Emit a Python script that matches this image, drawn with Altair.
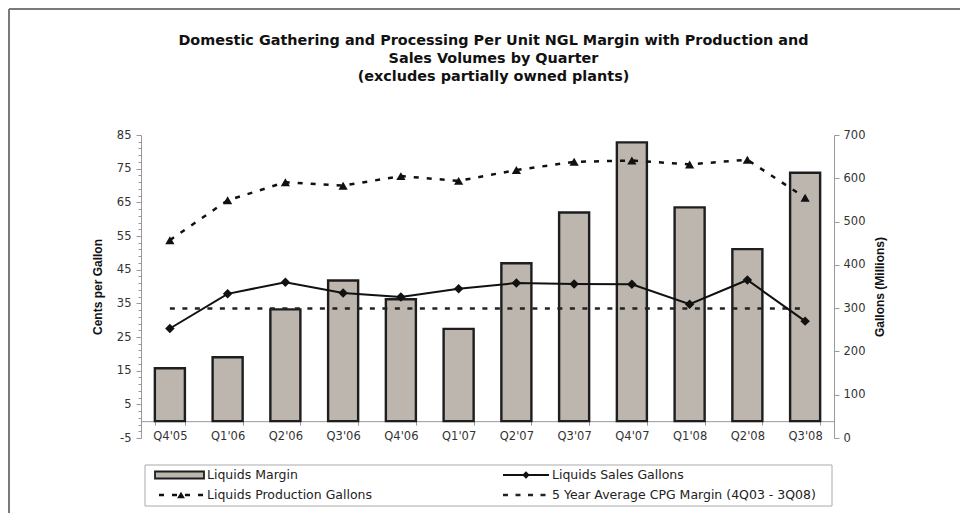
import altair as alt
import pandas as pd

quarters = ["Q4'05", "Q1'06", "Q2'06", "Q3'06", "Q4'06", "Q1'07",
            "Q2'07", "Q3'07", "Q4'07", "Q1'08", "Q2'08", "Q3'08"]
liquids_margin = [15.7, 19.0, 33.2, 41.8, 36.2, 27.4, 46.9, 62.0, 82.8, 63.5, 51.1, 73.8]
sales_gallons = [253, 333, 360, 335, 326, 345, 358, 356, 355, 309, 365, 270]
production_gallons = [457, 549, 591, 583, 605, 594, 619, 638, 641, 632, 643, 555]
avg_margin = [33.5] * 12
series_names = ["Liquids Margin", "Liquids Sales Gallons",
                "Liquids Production Gallons", "5 Year Average CPG Margin (4Q03 - 3Q08)"]
title_lines = ["Domestic Gathering and Processing Per Unit NGL Margin with Production and",
               "Sales Volumes by Quarter",
               "(excludes partially owned plants)"]
left_title = "Cents per Gallon"
right_title = "Gallons (Millions)"

W, H = 693, 303
FONT = "DejaVu Sans"
TFONT = "Liberation Sans"

df = pd.DataFrame({"Quarter": quarters, "Margin": liquids_margin,
                   "Sales": sales_gallons, "Production": production_gallons,
                   "Avg": avg_margin})

x_enc = alt.X("Quarter:N", sort=quarters,
              scale=alt.Scale(paddingInner=0.48, paddingOuter=0.24),
              axis=alt.Axis(title=None, orient="bottom", offset=-H * 5 / 90,
                            tickBand="extent", tickSize=4, labelAngle=0,
                            labelPadding=5, domainColor="#999", tickColor="#999",
                            labelFont=FONT, labelFontSize=11.5, labelColor="#333"))

major = "(datum.value + 5) % 10 == 0"
left_axis = alt.Axis(orient="left", title=left_title, grid=False,
                     values=list(range(-5, 86, 2)),
                     labelExpr=f"{major} ? '' + datum.value : ''",
                     tickSize={"condition": {"test": major, "value": 5}, "value": 3},
                     domainColor="#999", tickColor="#999",
                     labelFont=FONT, labelFontSize=11.5, labelColor="#333", labelPadding=5,
                     titleFont=TFONT, titleFontSize=12, titleFontWeight="bold",
                     titleColor="#111", titlePadding=12)
left_scale = alt.Scale(domain=[-5, 85], nice=False, zero=False)

right_axis = alt.Axis(orient="right", title=right_title, grid=False,
                      values=list(range(0, 701, 100)), tickSize=5,
                      domainColor="#999", tickColor="#999",
                      labelFont=FONT, labelFontSize=11.5, labelColor="#333", labelPadding=4,
                      titleFont=TFONT, titleFontSize=12, titleFontWeight="bold",
                      titleColor="#111", titlePadding=22, titleAngle=270)
right_scale = alt.Scale(domain=[0, 700], nice=False, zero=True)

base = alt.Chart(df).encode(x=x_enc)

bars = base.mark_bar(fill="#bdb6ae", stroke="#1e1e1e", strokeWidth=2.4).encode(
    y=alt.Y("Margin:Q", scale=left_scale, axis=left_axis))
avg_line = base.mark_line(color="#222", strokeWidth=2.5, strokeDash=[5, 7.5]).encode(
    y=alt.Y("Avg:Q", scale=left_scale, axis=left_axis))
left_layer = alt.layer(bars, avg_line)

sales_line = base.mark_line(
    color="#111", strokeWidth=2,
    point=alt.OverlayMarkDef(shape="diamond", size=90, filled=True, color="#111")
).encode(y=alt.Y("Sales:Q", scale=right_scale, axis=right_axis))
prod_line = base.mark_line(
    color="#111", strokeWidth=2.5, strokeDash=[5, 8],
    point=alt.OverlayMarkDef(shape="triangle-up", size=85, filled=True, color="#111")
).encode(y=alt.Y("Production:Q", scale=right_scale, axis=right_axis))
right_layer = alt.layer(sales_line, prod_line)

one = alt.Data(values=[{"k": 1}])

# frame lines (top and left)
frame_left = alt.Chart(one).mark_rule(color="#7a7a7a", strokeWidth=2).encode(
    x=alt.value(-132), y=alt.value(-126), y2=alt.value(378))
frame_top = alt.Chart(one).mark_rule(color="#7a7a7a", strokeWidth=2).encode(
    x=alt.value(-132), x2=alt.value(819), y=alt.value(-126))

# title
title_layers = [
    alt.Chart(one).mark_text(text=t, font=FONT, fontSize=14.4, fontWeight="bold",
                             color="#111", align="center", baseline="middle").encode(
        x=alt.value(352.5), y=alt.value(yy))
    for t, yy in zip(title_lines, [-94, -76, -58])
]

# legend
leg_box = alt.Chart(one).mark_rect(fill="white", stroke="#aaa", strokeWidth=1).encode(
    x=alt.value(4), x2=alt.value(691), y=alt.value(330), y2=alt.value(371))
r1, r2 = 340, 360
leg_bar = alt.Chart(one).mark_rect(fill="#bdb6ae", stroke="#1e1e1e", strokeWidth=1.8).encode(
    x=alt.value(14), x2=alt.value(63), y=alt.value(r1 - 3.5), y2=alt.value(r1 + 3.5))
leg_sales = alt.Chart(one).mark_rule(color="#111", strokeWidth=2).encode(
    x=alt.value(362), x2=alt.value(408), y=alt.value(r1))
leg_sales_pt = alt.Chart(one).mark_point(shape="diamond", size=55, filled=True,
                                         color="#111", opacity=1).encode(
    x=alt.value(385), y=alt.value(r1))
leg_prod = alt.Chart(one).mark_rule(color="#111", strokeWidth=2.5, strokeDash=[5, 8]).encode(
    x=alt.value(18), x2=alt.value(63), y=alt.value(r2))
leg_prod_pt = alt.Chart(one).mark_point(shape="triangle-up", size=60, filled=True,
                                        color="#111", opacity=1).encode(
    x=alt.value(40), y=alt.value(r2))
leg_avg = alt.Chart(one).mark_rule(color="#222", strokeWidth=2.5, strokeDash=[5, 7.5]).encode(
    x=alt.value(362), x2=alt.value(410), y=alt.value(r2))
leg_texts = [
    alt.Chart(one).mark_text(text=t, font=FONT, fontSize=12.5, color="#222",
                             align="left", baseline="middle").encode(
        x=alt.value(xx), y=alt.value(yy))
    for t, xx, yy in zip(series_names, [66, 411, 66, 411], [r1, r1, r2, r2])
]

chart = alt.layer(
    left_layer, right_layer, frame_left, frame_top, *title_layers,
    leg_box, leg_bar, leg_sales, leg_sales_pt, leg_prod, leg_prod_pt, leg_avg, *leg_texts
).resolve_scale(y="independent").properties(
    width=W, height=H, padding=0
).configure_view(stroke=None)

chart.save("out.html", embed_options={"renderer": "svg", "actions": False})
